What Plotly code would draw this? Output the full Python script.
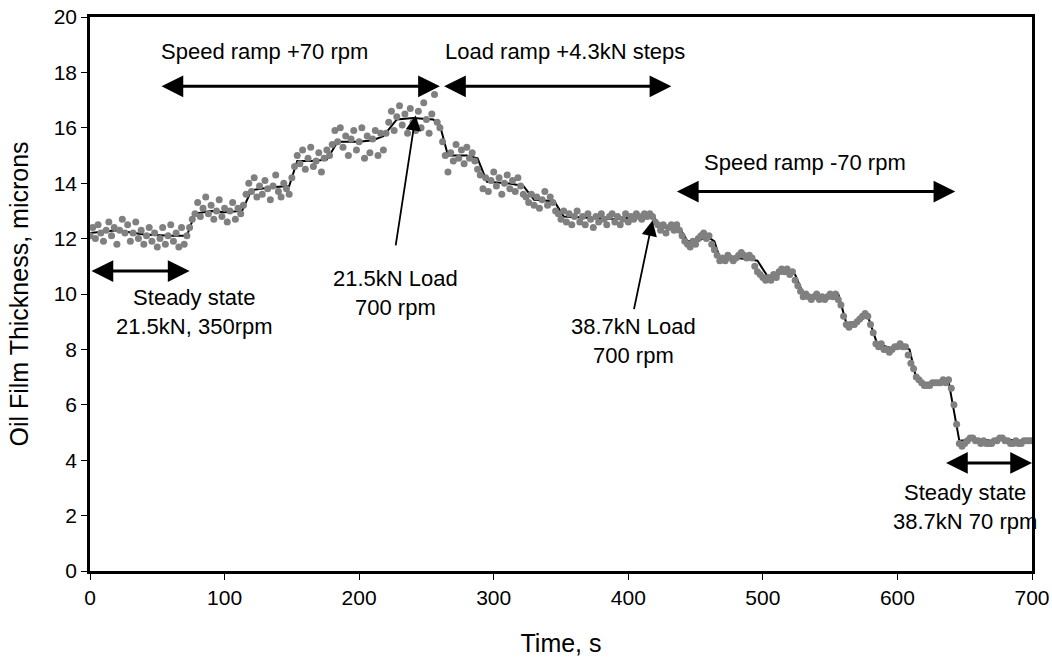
import plotly.graph_objects as go

# ---------------- data ----------------
# film thickness samples, one every 2 s from 0 to 700 s (grey dots)
dot_step = 2
dot_values = [
    # 0-72 s steady state
    12.1, 12.4, 12.0, 12.5, 12.2, 11.9, 12.3, 12.6, 12.1, 12.4,
    11.8, 12.3, 12.7, 12.2, 12.5, 11.9, 12.2, 12.6, 12.0, 12.3,
    11.8, 12.1, 12.4, 11.9, 12.2, 11.7, 12.0, 12.4, 11.8, 12.1,
    12.5, 11.9, 12.2, 11.7, 12.4, 11.8, 12.1,
    # 74-112
    12.4, 12.7, 12.9, 13.3, 12.8, 13.1, 13.5, 12.9, 13.2, 12.7,
    13.0, 13.4, 12.8, 13.1, 12.6, 13.0, 13.3, 12.7, 13.1, 12.9,
    # 114-148
    13.2, 13.6, 14.0, 13.7, 14.2, 13.5, 13.9, 13.6, 14.1, 13.8,
    13.4, 13.9, 14.3, 13.7, 13.5, 14.0, 13.8, 13.6,
    # 150-176
    14.2, 14.6, 15.0, 14.7, 15.2, 14.5, 14.9, 15.3, 14.6, 14.8,
    15.1, 14.4, 14.9, 15.2,
    # 178-218
    15.0, 15.4, 15.9, 15.5, 16.0, 15.3, 15.7, 15.0, 15.6, 15.9,
    15.2, 15.5, 16.0, 14.9, 15.7, 15.1, 15.6, 15.9, 15.0, 15.8,
    15.2,
    # 220-258
    15.8, 16.2, 16.6, 15.9, 16.4, 16.8, 16.1, 16.5, 15.8, 16.7,
    16.2, 15.9, 16.6, 16.0, 16.9, 16.3, 15.8, 16.5, 17.2, 16.2,
    # 260-288
    16.0, 15.5, 15.0, 14.4, 15.1, 14.8, 15.4, 14.9, 15.2, 14.7,
    15.3, 14.9, 15.1, 14.8, 14.5,
    # 290-322
    14.3, 13.8, 14.2, 13.7, 14.1, 14.4, 13.9, 14.2, 13.6, 14.0,
    14.3, 13.8, 14.1, 13.7, 14.2, 13.9, 13.6,
    # 324-346
    13.5, 13.3, 13.6, 13.2, 13.5, 13.1, 13.4, 13.7, 13.2, 13.5,
    13.3, 13.0,
    # 348-420
    12.9, 12.7, 13.0, 12.6, 12.9, 12.5, 12.8, 13.0, 12.6, 12.8,
    12.5, 12.9, 12.7, 12.4, 12.8, 12.6, 12.9, 12.7, 12.5, 12.8,
    12.9, 12.6, 12.8, 12.5, 12.7, 12.9, 12.6, 12.8, 12.7, 12.9,
    12.8, 12.7, 12.9, 12.8, 12.9, 12.8, 12.6,
    # 422-440
    12.5, 12.3, 12.5, 12.2, 12.4, 12.5, 12.3, 12.5, 12.3, 12.1,
    # 442-464
    11.9, 11.8, 11.7, 11.9, 11.8, 12.0, 12.1, 12.2, 12.0, 12.1,
    11.8, 11.6,
    # 466-496
    11.4, 11.2, 11.3, 11.2, 11.4, 11.3, 11.2, 11.3, 11.4, 11.5,
    11.4, 11.3, 11.4, 11.3, 11.0, 10.8,
    # 498-526
    10.7, 10.6, 10.5, 10.6, 10.5, 10.7, 10.6, 10.8, 10.9, 10.8,
    10.9, 10.7, 10.8, 10.5, 10.3,
    # 528-556
    10.1, 9.9, 10.0, 9.9, 9.8, 9.9, 10.0, 9.8, 9.9, 9.8,
    9.9, 10.0, 9.9, 10.0, 9.8,
    # 558-580
    9.6, 9.2, 8.9, 8.8, 8.9, 8.9, 9.0, 9.1, 9.2, 9.3,
    9.2, 8.9,
    # 582-610
    8.6, 8.2, 8.1, 8.2, 8.0, 8.0, 7.9, 8.0, 8.1, 8.1,
    8.2, 8.1, 8.1, 7.8, 7.5,
    # 612-640
    7.3, 7.0, 6.9, 6.8, 6.7, 6.7, 6.7, 6.8, 6.8, 6.8,
    6.8, 6.9, 6.8, 6.9, 6.6,
    # 642-700 steady state
    6.0, 5.3, 4.6, 4.5, 4.6, 4.7, 4.8, 4.8, 4.7, 4.7,
    4.6, 4.7, 4.6, 4.6, 4.6, 4.7, 4.7, 4.8, 4.8, 4.7,
    4.7, 4.6, 4.6, 4.7, 4.6, 4.6, 4.7, 4.7, 4.7, 4.7,
]
dot_times = [i * dot_step for i in range(len(dot_values))]

# smoothed trend (black line)
trend_times = [0, 20, 40, 60, 72, 78, 90, 100, 113, 120, 135, 148, 154, 165,
               176, 184, 200, 210, 218, 228, 240, 255, 260, 266, 280, 288,
               295, 310, 322, 330, 345, 352, 370, 390, 410, 418, 424, 438,
               444, 452, 458, 464, 468, 480, 490, 496, 504, 512, 518, 524,
               530, 540, 550, 556, 562, 570, 578, 585, 595, 605, 609, 614,
               620, 630, 638, 646, 660, 670, 680, 690, 700]
trend_values = [12.2, 12.3, 12.15, 12.1, 12.1, 12.9, 13.0, 12.95, 13.0, 13.75,
                13.85, 13.9, 14.8, 14.8, 14.85, 15.5, 15.5, 15.55, 15.7, 16.3,
                16.35, 16.3, 16.1, 15.0, 15.0, 14.9, 14.05, 14.0, 13.9, 13.4,
                13.35, 12.8, 12.75, 12.7, 12.8, 12.85, 12.4, 12.4, 11.9, 11.9,
                12.1, 11.9, 11.3, 11.3, 11.25, 11.2, 10.6, 10.7, 10.85, 10.7,
                10.0, 9.9, 9.95, 10.0, 8.95, 9.0, 9.2, 8.2, 8.05, 8.1, 8.0,
                6.95, 6.8, 6.8, 6.85, 4.7, 4.75, 4.7, 4.75, 4.7, 4.75]

x_ticks = [0, 100, 200, 300, 400, 500, 600, 700]
y_ticks = [0, 2, 4, 6, 8, 10, 12, 14, 16, 18, 20]

FONT = "Liberation Sans, Arial, sans-serif"

fig = go.Figure()
fig.add_trace(go.Scatter(x=trend_times, y=trend_values, mode="lines",
                         line=dict(color="black", width=2),
                         showlegend=False, hoverinfo="skip"))
fig.add_trace(go.Scatter(x=dot_times, y=dot_values, mode="markers",
                         marker=dict(color="#808080", size=7),
                         showlegend=False, hoverinfo="x+y"))

annotations = []


def double_arrow(x0, x1, y):
    annotations.append(dict(x=x1, y=y, ax=x0, ay=y, xref="x", yref="y",
                            axref="x", ayref="y", text="", showarrow=True,
                            arrowhead=2, arrowsize=1.45, arrowwidth=3,
                            arrowside="end+start", startarrowhead=2,
                            startarrowsize=1.45, arrowcolor="black"))


def single_arrow(x0, y0, x1, y1):
    annotations.append(dict(x=x1, y=y1, ax=x0, ay=y0, xref="x", yref="y",
                            axref="x", ayref="y", text="", showarrow=True,
                            arrowhead=2, arrowsize=1.7, arrowwidth=1.8,
                            arrowcolor="black"))


def label(x, y, text):
    annotations.append(dict(x=x, y=y, xref="x", yref="y", text=text,
                            showarrow=False, align="center",
                            font=dict(family=FONT, size=22, color="black")))


double_arrow(52, 260, 17.5)
label(130, 18.75, "Speed ramp +70 rpm")
double_arrow(262, 432, 17.5)
label(353, 18.75, "Load ramp +4.3kN steps")
double_arrow(435, 643, 13.7)
label(531, 14.75, "Speed ramp -70 rpm")
double_arrow(0, 74, 10.83)
label(78, 9.35, "Steady state<br>21.5kN, 350rpm")
single_arrow(227, 11.7, 242, 16.45)
label(227, 10.05, "21.5kN Load<br>700 rpm")
single_arrow(404, 9.4, 418, 12.65)
label(404, 8.3, "38.7kN Load<br>700 rpm")
double_arrow(635, 700, 3.9)
label(650, 2.3, "Steady state<br>38.7kN 70 rpm")

fig.update_layout(
    width=1052, height=657,
    margin=dict(l=90, r=20, t=17, b=86, autoexpand=False),
    paper_bgcolor="white", plot_bgcolor="white",
    font=dict(family=FONT, size=21, color="black"),
    annotations=annotations,
    xaxis=dict(range=[0, 700], tickvals=x_ticks, ticks="outside", ticklen=6,
               tickcolor="black", showgrid=False, zeroline=False,
               showline=True, linecolor="black", linewidth=2.5, mirror=True,
               automargin=False,
               title=dict(text="Time, s", font=dict(size=25), standoff=30),
               tickfont=dict(size=21)),
    yaxis=dict(range=[0, 20], tickvals=y_ticks, ticks="outside", ticklen=6,
               tickcolor="black", showgrid=False, zeroline=False,
               showline=True, linecolor="black", linewidth=2.5, mirror=True,
               automargin=False,
               title=dict(text="Oil Film Thickness, microns",
                          font=dict(size=25), standoff=18),
               tickfont=dict(size=21)),
)

fig.write_html("out.html")
